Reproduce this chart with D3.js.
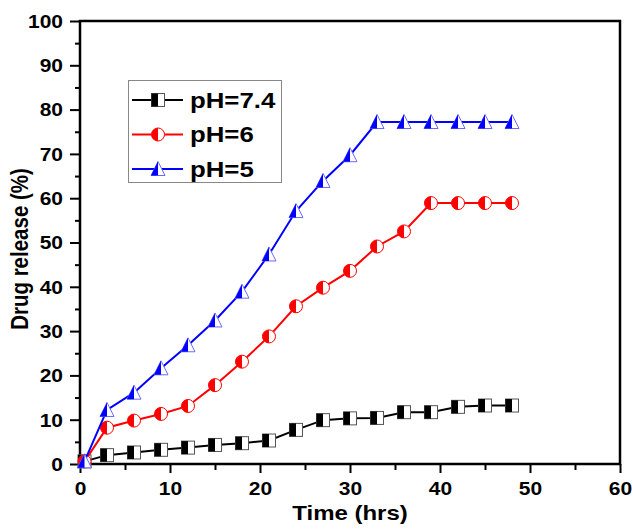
<!DOCTYPE html>
<html>
<head>
<meta charset="utf-8">
<script src="https://cdn.jsdelivr.net/npm/d3@7"></script>
<style>
  html, body { margin: 0; padding: 0; background: #ffffff; }
  svg { display: block; font-family: "Liberation Sans", Arial, sans-serif; }
</style>
</head>
<body>
<svg id="chart" width="633" height="531"></svg>
<script>
// Sampling times (hours)
const timeHrs = [0.5, 3, 6, 9, 12, 15, 18, 21, 24, 27, 30, 33, 36, 39, 42, 45, 48];

// Cumulative drug release (%) at each pH
const releasePH74 = [0.6, 2.0, 2.6, 3.2, 3.7, 4.3, 4.7, 5.3, 7.7, 9.9, 10.3, 10.4, 11.7, 11.7, 12.9, 13.2, 13.2];
const releasePH6  = [0.6, 8.2, 9.8, 11.3, 13.1, 17.8, 23.1, 28.8, 35.6, 39.8, 43.6, 49.1, 52.5, 58.9, 58.9, 58.9, 58.9];
const releasePH5  = [0.6, 12.2, 16.1, 21.6, 26.8, 32.4, 38.9, 47.3, 57.1, 63.9, 69.7, 77.2, 77.2, 77.2, 77.2, 77.2, 77.2];

const seriesNames = ["pH=7.4", "pH=6", "pH=5"];
const seriesColors = ["#000000", "#ff0000", "#0000ff"];
const seriesShapes = ["square", "circle", "triangle"];

const xTicks = [0, 10, 20, 30, 40, 50, 60];
const yTicks = [0, 10, 20, 30, 40, 50, 60, 70, 80, 90, 100];

const xTitle = "Time (hrs)";
const yTitle = "Drug release (%)";

const svg = d3.select("#chart");
const margin = { left: 80, right: 13, top: 21, bottom: 67 };
const W = 633, H = 531;
const stretch = 1.2; // wide bold lettering

const x = d3.scaleLinear().domain([0, 60]).range([margin.left, W - margin.right]);
const y = d3.scaleLinear().domain([0, 100]).range([H - margin.bottom, margin.top]);

const series = [releasePH74, releasePH6, releasePH5].map((vals, i) => ({
  name: seriesNames[i],
  color: seriesColors[i],
  shape: seriesShapes[i],
  points: timeHrs.map((t, j) => ({ t, v: vals[j] }))
}));

const xMinor = d3.range(5, 60, 10);
const yMinor = d3.range(5, 100, 10);

// Bottom axis
const gx = svg.append("g").attr("transform", `translate(0,${y(0)})`)
  .call(d3.axisBottom(x).tickValues(xTicks).tickSize(9).tickPadding(10).tickFormat(d3.format("d")));
gx.select(".domain").remove();
gx.selectAll("line").attr("stroke-width", 2);
gx.selectAll("text")
  .attr("font-size", 17.5).attr("font-weight", "bold").attr("fill", "#000")
  .attr("transform", `scale(${stretch},1)`);

svg.append("g").attr("transform", `translate(0,${y(0)})`)
  .call(d3.axisBottom(x).tickValues(xMinor).tickSize(6).tickFormat(""))
  .call(g => g.select(".domain").remove())
  .selectAll("line").attr("stroke-width", 2);

// Left axis
const gy = svg.append("g").attr("transform", `translate(${x(0)},0)`)
  .call(d3.axisLeft(y).tickValues(yTicks).tickSize(10).tickPadding(7).tickFormat(d3.format("d")));
gy.select(".domain").remove();
gy.selectAll("line").attr("stroke-width", 2);
gy.selectAll("text")
  .attr("font-size", 17.5).attr("font-weight", "bold").attr("fill", "#000")
  .attr("x", -17 / stretch).attr("dy", "0.36em")
  .attr("transform", `scale(${stretch},1)`);

svg.append("g").attr("transform", `translate(${x(0)},0)`)
  .call(d3.axisLeft(y).tickValues(yMinor).tickSize(5).tickFormat(""))
  .call(g => g.select(".domain").remove())
  .selectAll("line").attr("stroke-width", 2);

// Plot frame
svg.append("rect")
  .attr("x", x(0)).attr("y", y(100))
  .attr("width", x(60) - x(0)).attr("height", y(0) - y(100))
  .attr("fill", "none").attr("stroke", "#000").attr("stroke-width", 2.5);

// Axis titles
svg.append("text")
  .attr("transform", `translate(${(x(0) + x(60)) / 2},520) scale(${stretch},1)`)
  .attr("text-anchor", "middle").attr("font-size", 20).attr("font-weight", "bold")
  .text(xTitle);

svg.append("text")
  .attr("transform", `translate(28,249) rotate(-90) scale(1,${stretch})`)
  .attr("text-anchor", "middle").attr("font-size", 20.5).attr("font-weight", "bold")
  .text(yTitle);

// Half-filled markers: left half in series colour, right half white
function drawMarker(g, shape, color, cx, cy) {
  const s = 6.5;
  if (shape === "square") {
    g.append("rect").attr("x", cx - s).attr("y", cy - s).attr("width", 2 * s).attr("height", 2 * s)
      .attr("fill", "#fff").attr("stroke", "#555").attr("stroke-width", 1);
    g.append("rect").attr("x", cx - s).attr("y", cy - s).attr("width", s).attr("height", 2 * s)
      .attr("fill", color);
  } else if (shape === "circle") {
    g.append("circle").attr("cx", cx).attr("cy", cy).attr("r", s)
      .attr("fill", "#fff").attr("stroke", color).attr("stroke-width", 1);
    g.append("path")
      .attr("d", `M${cx},${cy - s} A${s},${s} 0 0 0 ${cx},${cy + s} Z`)
      .attr("fill", color);
  } else {
    const h = 7.5;
    g.append("path")
      .attr("d", `M${cx},${cy - h} L${cx + s + 0.5},${cy + h - 1} L${cx - s - 0.5},${cy + h - 1} Z`)
      .attr("fill", "#fff").attr("stroke", "#6a6aff").attr("stroke-width", 1);
    g.append("path")
      .attr("d", `M${cx},${cy - h} L${cx},${cy + h - 1} L${cx - s - 0.5},${cy + h - 1} Z`)
      .attr("fill", color);
  }
}

const line = d3.line().x(d => x(d.t)).y(d => y(d.v));

series.forEach(s => {
  const g = svg.append("g");
  g.append("path").datum(s.points).attr("d", line)
    .attr("fill", "none").attr("stroke", s.color).attr("stroke-width", 2);
  s.points.forEach(p => drawMarker(g, s.shape, s.color, x(p.t), y(p.v)));
});

// Legend
const legend = svg.append("g");
legend.append("rect").attr("x", 128.5).attr("y", 80.5).attr("width", 153).attr("height", 102)
  .attr("fill", "#fff").attr("stroke", "#888").attr("stroke-width", 1);
series.forEach((s, i) => {
  const ly = 100 + i * 34.5;
  legend.append("line").attr("x1", 132).attr("x2", 183).attr("y1", ly).attr("y2", ly)
    .attr("stroke", s.color).attr("stroke-width", 2);
  drawMarker(legend, s.shape, s.color, 158, ly);
  legend.append("text")
    .attr("transform", `translate(190,${ly + 7.5}) scale(${stretch},1)`)
    .attr("font-size", 21.5).attr("font-weight", "bold").text(s.name);
});
</script>
</body>
</html>
